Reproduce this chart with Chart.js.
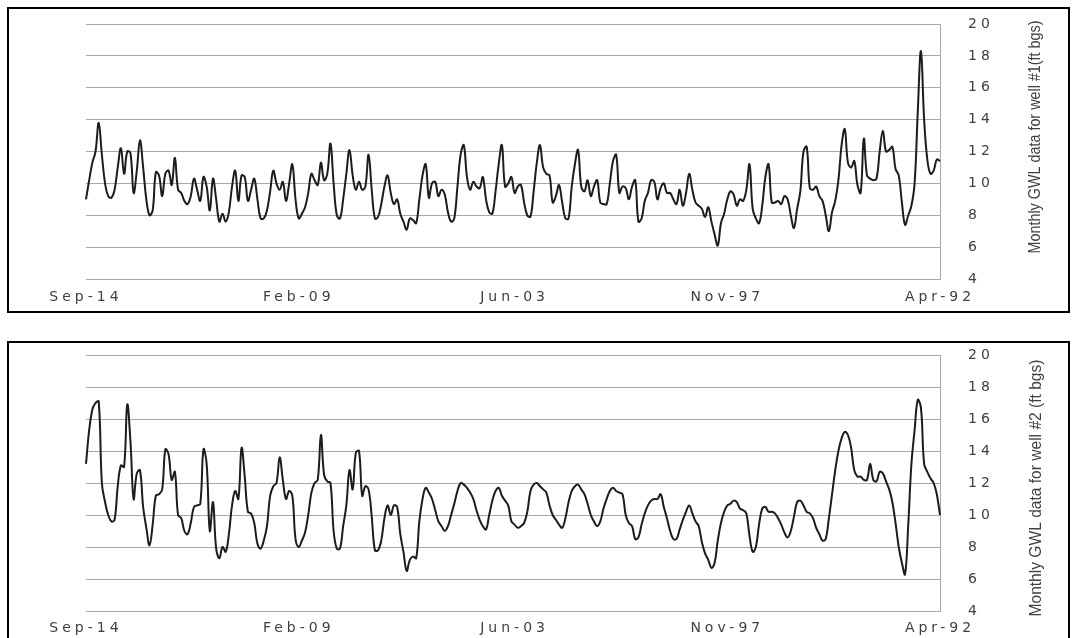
<!DOCTYPE html>
<html lang="en">
<head>
  <meta charset="UTF-8" />
  <title>Monthly GWL data for wells #1 and #2</title>
  <script src="https://cdn.jsdelivr.net/npm/chart.js"></script>
  <style>
    html, body { margin: 0; background: #fff; overflow: hidden; }
    .panel { position: absolute; left: 7px; width: 1063px; height: 306px; border: 2px solid #000; box-sizing: border-box; }
    #p1 { top: 7px; }
    #p2 { top: 341px; }
    canvas { display: block; }
  </style>
</head>
<body>

  <div class="panel" id="p1"><canvas id="well1" width="1059" height="302"></canvas></div>
  <div class="panel" id="p2"><canvas id="well2" width="1059" height="302"></canvas></div>

  <script>
    // monthly categories, newest first (Sep-14 back to Apr-92)
    const monthNames = ['Jan','Feb','Mar','Apr','May','Jun','Jul','Aug','Sep','Oct','Nov','Dec'];
    const months = [];
    for (let k = 0; k < 270; k++) {
      const m = 2014 * 12 + 8 - k;
      months.push(monthNames[m % 12] + '-' + String(Math.floor(m / 12) % 100).padStart(2, '0'));
    }
    const tickLabels = ['Sep-14', 'Feb-09', 'Jun-03', 'Nov-97', 'Apr-92'];

    // GWL (ft bgs), well #1
    const well1 = [
      9.0, 10.2, 11.3, 12.0, 13.8, 11.8, 10.0, 9.2, 9.1, 9.6,
      11.0, 12.2, 10.6, 12.0, 11.9, 9.4, 10.8, 12.7, 11.0, 9.0,
      8.0, 8.3, 10.7, 10.5, 9.2, 10.6, 10.8, 9.9, 11.6, 9.6,
      9.4, 8.9, 8.7, 9.2, 10.3, 9.6, 8.9, 10.4, 9.8, 8.3,
      10.3, 9.0, 7.6, 8.1, 7.6, 8.2, 9.8, 10.8, 8.9, 10.5,
      10.4, 8.9, 9.6, 10.3, 9.0, 7.8, 7.8, 8.3, 9.5, 10.8,
      10.0, 9.6, 10.1, 8.9, 10.0, 11.2, 9.0, 7.8, 8.1, 8.5,
      9.4, 10.6, 10.2, 9.9, 11.3, 10.2, 10.6, 12.5, 10.0, 8.0,
      7.8, 9.0, 10.6, 12.1, 10.5, 9.6, 10.1, 9.6, 9.8, 11.8,
      9.6, 7.8, 7.9, 8.7, 9.8, 10.5, 9.4, 8.7, 9.0, 8.1,
      7.6, 7.1, 7.8, 7.7, 7.5, 9.0, 10.5, 11.2, 9.1, 10.0,
      10.1, 9.2, 9.6, 9.3, 8.2, 7.6, 7.8, 9.8, 11.8, 12.4,
      10.4, 9.6, 10.1, 9.8, 9.7, 10.4, 9.0, 8.2, 8.1, 9.5,
      11.2, 12.4, 9.8, 10.0, 10.4, 9.4, 9.8, 9.9, 8.8, 8.0,
      7.9, 9.5, 11.3, 12.4, 11.0, 10.6, 10.5, 8.8, 9.2, 9.9,
      8.8, 7.8, 7.8, 9.8, 11.2, 12.1, 9.8, 9.5, 10.2, 9.2,
      9.8, 10.2, 8.8, 8.7, 8.7, 10.0, 11.4, 11.8, 9.4, 9.8,
      9.7, 9.0, 9.8, 10.2, 7.6, 7.8, 8.9, 9.4, 10.2, 10.1,
      9.0, 9.7, 10.0, 9.4, 9.4, 9.0, 8.7, 9.6, 8.6, 9.4,
      10.6, 9.6, 8.8, 8.6, 8.4, 7.9, 8.5, 7.6, 6.8, 6.1,
      7.5, 8.1, 9.0, 9.5, 9.3, 8.6, 9.0, 8.9, 9.6, 11.2,
      8.4, 7.8, 7.5, 8.6, 10.4, 11.2, 8.8, 8.8, 8.9, 8.7,
      9.2, 9.0, 8.0, 7.2, 8.4, 9.5, 12.0, 12.3, 9.7, 9.6,
      9.8, 9.2, 8.9, 8.0, 7.0, 8.2, 8.9, 10.2, 12.4, 13.4,
      11.3, 11.0, 11.4, 9.9, 9.4, 12.8, 10.5, 10.3, 10.2, 10.3,
      12.0, 13.3, 12.0, 12.1, 12.3, 10.9, 10.5, 8.8, 7.4, 8.0,
      8.6, 10.0, 14.5, 18.3, 14.0, 11.5, 10.6, 10.8, 11.5, 11.4
    ];

    // GWL (ft bgs), well #2
    const well2 = [
      13.2, 15.3, 16.6, 17.0, 17.1, 12.0, 10.8, 10.0, 9.6, 9.7,
      11.8, 13.1, 13.0, 16.9, 14.6, 11.0, 12.6, 12.8, 10.5, 9.2,
      8.1, 9.4, 11.2, 11.3, 11.6, 14.1, 13.8, 12.2, 12.7, 10.0,
      9.8, 9.0, 8.8, 9.5, 10.5, 10.6, 10.7, 14.1, 13.2, 9.0,
      10.8, 7.9, 7.3, 8.0, 7.7, 8.8, 10.6, 11.5, 11.0, 14.2,
      12.4, 10.2, 10.1, 9.5, 8.2, 7.9, 8.4, 9.3, 11.2, 11.8,
      12.0, 13.6, 12.2, 11.0, 11.5, 11.2, 8.5, 8.0, 8.4, 8.9,
      10.0, 11.4, 12.0, 12.2, 15.0, 12.5, 12.1, 12.0, 9.0, 7.9,
      7.9, 9.3, 10.6, 12.8, 11.6, 13.9, 14.0, 11.2, 11.8, 11.6,
      9.9, 7.8, 7.8, 8.4, 9.8, 10.6, 10.0, 10.6, 10.5, 8.8,
      7.7, 6.5, 7.2, 7.4, 7.3, 9.6, 11.0, 11.7, 11.4, 11.0,
      10.3, 9.6, 9.3, 9.0, 9.3, 10.0, 10.7, 11.5, 12.0, 11.9,
      11.7, 11.4, 11.0, 10.3, 9.7, 9.3, 9.1, 10.0, 10.9, 11.5,
      11.7, 11.2, 10.9, 10.6, 9.6, 9.4, 9.2, 9.3, 9.5, 10.2,
      11.5, 11.9, 12.0, 11.8, 11.6, 11.4, 10.6, 10.0, 9.7, 9.4,
      9.2, 9.8, 10.8, 11.5, 11.8, 11.9, 11.6, 11.3, 10.7, 10.0,
      9.6, 9.3, 9.6, 10.4, 11.0, 11.5, 11.7, 11.5, 11.4, 11.3,
      10.0, 9.5, 9.3, 8.5, 8.6, 9.4, 10.1, 10.6, 10.9, 11.0,
      11.0, 11.3, 10.5, 9.8, 9.0, 8.5, 8.5, 9.1, 9.7, 10.2,
      10.6, 10.1, 9.6, 9.3, 8.3, 7.6, 7.2, 6.7, 7.0, 8.4,
      9.5, 10.2, 10.6, 10.7, 10.9, 10.8, 10.4, 10.3, 10.1, 8.7,
      7.7, 8.0, 9.4, 10.4, 10.5, 10.2, 10.2, 10.1, 9.8, 9.4,
      8.9, 8.6, 9.0, 9.9, 10.8, 10.9, 10.6, 10.2, 10.1, 9.8,
      9.2, 8.8, 8.4, 8.5, 9.8, 11.3, 12.8, 14.0, 14.8, 15.2,
      15.0, 14.2, 12.8, 12.4, 12.4, 12.2, 12.2, 13.2, 12.2, 12.1,
      12.7, 12.6, 12.1, 11.6, 10.8, 9.5, 8.0, 7.0, 6.3, 9.4,
      13.2, 15.3, 17.2, 16.7, 13.2, 12.7, 12.3, 12.0, 11.3, 10.0
    ];

    const textColor = '#404040';
    const gridColor = '#a8a8a8';

    // spaced-out tick text + rotated, narrow axis title on the right
    const sideTitle = {
      id: 'sideTitle',
      beforeDraw(chart) {
        chart.ctx.letterSpacing = '4px';
      },
      afterDraw(chart, args, opts) {
        const ctx = chart.ctx;
        ctx.letterSpacing = '0px';
        ctx.save();
        ctx.font = '16px "Liberation Sans Narrow", "Liberation Sans", Arial, sans-serif';
        const w = ctx.measureText(opts.text).width;
        ctx.translate(opts.x, opts.y);
        ctx.rotate(-Math.PI / 2);
        ctx.scale(opts.length / w, 1);
        ctx.fillStyle = textColor;
        ctx.textAlign = 'center';
        ctx.textBaseline = 'middle';
        ctx.fillText(opts.text, 0, 0);
        ctx.restore();
      }
    };

    function makeChart(id, values, title, cfg) {
      return new Chart(document.getElementById(id), {
        type: 'line',
        data: {
          labels: months,
          datasets: [{
            data: values,
            borderColor: '#1c1c1c',
            borderWidth: 2,
            pointRadius: 0,
            tension: 0.4,
            fill: false
          }]
        },
        options: {
          responsive: false,
          animation: false,
          layout: { padding: { left: 77, right: 0, top: cfg.top, bottom: 0 } },
          plugins: {
            legend: { display: false },
            tooltip: { enabled: false },
            sideTitle: { text: title, x: cfg.titleX, y: cfg.titleY, length: cfg.titleLen }
          },
          scales: {
            x: {
              grid: { display: false, drawTicks: false },
              border: { display: false },
              ticks: {
                autoSkip: false,
                maxRotation: 0,
                minRotation: 0,
                padding: cfg.tickPad,
                color: textColor,
                font: { family: '"DejaVu Sans", Verdana, sans-serif', size: 14 },
                callback: function (val) {
                  const l = this.getLabelForValue(val);
                  return tickLabels.includes(l) ? l : null;
                }
              },
              afterFit: s => { s.height = cfg.axisH; }
            },
            y: {
              position: 'right',
              min: 4,
              max: 20,
              grid: { color: gridColor, lineWidth: 1, drawTicks: false },
              border: { display: true, color: gridColor },
              ticks: {
                stepSize: 2,
                padding: 28,
                color: textColor,
                font: { family: '"DejaVu Sans", Verdana, sans-serif', size: 14 }
              },
              afterFit: s => {
                s.width = 128;
                s.paddingTop = 0;
                s.paddingBottom = 0;
              }
            }
          }
        },
        plugins: [sideTitle]
      });
    }

    makeChart('well1', well1, 'Monthly GWL data for well #1(ft bgs)',
      { top: 15, axisH: 32, tickPad: 10, titleX: 1027, titleY: 128, titleLen: 233 });
    makeChart('well2', well2, 'Monthly GWL data for well #2 (ft bgs)',
      { top: 12, axisH: 34, tickPad: 9, titleX: 1028, titleY: 145, titleLen: 257 });
  </script>

</body>
</html>
